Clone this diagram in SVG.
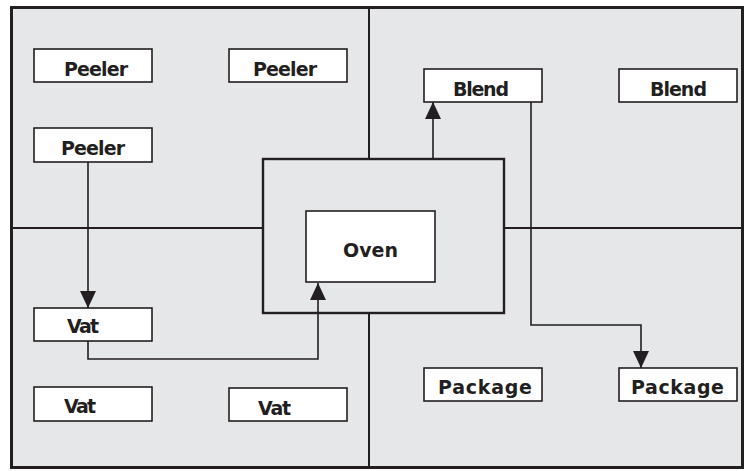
<svg xmlns="http://www.w3.org/2000/svg" width="754" height="471" viewBox="0 0 754 471">
<style>
.node rect{fill:#fff;stroke:#231f20;stroke-width:1.6}
.node text{font-family:"DejaVu Sans",sans-serif;font-size:19px;font-weight:bold;fill:#231f20;text-anchor:middle}
.div{stroke:#231f20;stroke-width:2;fill:none}
.conn path{stroke:#231f20;stroke-width:1.6;fill:none;marker-end:url(#arr)}
</style>
<defs>
<marker id="arr" viewBox="0 0 17 16" refX="17" refY="8" markerWidth="17" markerHeight="16" markerUnits="userSpaceOnUse" orient="auto">
<path d="M0,0 L17,8 L0,16 Z" fill="#231f20"/>
</marker>
</defs>
<rect x="0" y="0" width="754" height="471" fill="#fff"/>
<g id="floor">
<rect x="11.5" y="7.5" width="731" height="460" fill="#e6e7e8" stroke="#231f20" stroke-width="3"/>
<line class="div" x1="369" y1="7" x2="369" y2="159"/>
<line class="div" x1="369" y1="313" x2="369" y2="468"/>
<line class="div" x1="12" y1="228" x2="263" y2="228"/>
<line class="div" x1="504" y1="228" x2="742" y2="228"/>
<rect x="263" y="159" width="241" height="154" fill="#e6e7e8" stroke="#231f20" stroke-width="2.4"/>
</g>
<g id="oven" class="node"><rect x="306" y="211" width="129" height="71"/><text x="370.5" y="257" textLength="55">Oven</text></g>
<g id="peeler1" class="node"><rect x="34" y="49" width="118" height="33"/><text x="96" y="76" textLength="64">Peeler</text></g>
<g id="peeler2" class="node"><rect x="229" y="49" width="118" height="33"/><text x="285" y="76" textLength="64">Peeler</text></g>
<g id="peeler3" class="node"><rect x="34" y="128" width="118" height="34"/><text x="93" y="155" textLength="64">Peeler</text></g>
<g id="blend1" class="node"><rect x="424" y="69" width="118" height="33"/><text x="481" y="96" textLength="56">Blend</text></g>
<g id="blend2" class="node"><rect x="619" y="69" width="118" height="33"/><text x="678.5" y="96" textLength="57">Blend</text></g>
<g id="vat1" class="node"><rect x="34" y="308" width="118" height="33"/><text x="83" y="333" textLength="32">Vat</text></g>
<g id="vat2" class="node"><rect x="34" y="387" width="118" height="34"/><text x="80" y="413" textLength="32">Vat</text></g>
<g id="vat3" class="node"><rect x="229" y="388" width="118" height="33"/><text x="274.5" y="415" textLength="33">Vat</text></g>
<g id="package1" class="node"><rect x="424" y="368" width="118" height="33"/><text x="485" y="394" textLength="94">Package</text></g>
<g id="package2" class="node"><rect x="619" y="368" width="118" height="33"/><text x="677.5" y="394" textLength="93">Package</text></g>
<g id="connectors" class="conn">
<path d="M88,162 V308"/>
<path d="M88,341 V359 H318 V283"/>
<path d="M433,159 V102"/>
<path d="M531,102 V325 H641 V368"/>
</g>
</svg>
